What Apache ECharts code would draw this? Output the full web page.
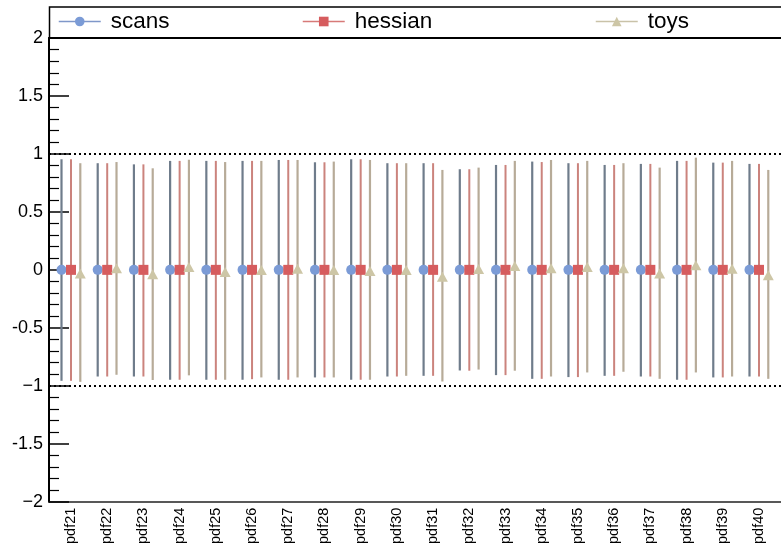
<!DOCTYPE html>
<html>
<head>
<meta charset="utf-8">
<script src="https://cdn.jsdelivr.net/npm/echarts@6/dist/echarts.min.js"></script>
<style>html,body{margin:0;padding:0;background:#fff;}#c{width:781px;height:547px;}</style>
</head>
<body>
<div id="c"></div>
<script>
var categories = ['pdf21','pdf22','pdf23','pdf24','pdf25','pdf26','pdf27','pdf28','pdf29','pdf30','pdf31','pdf32','pdf33','pdf34','pdf35','pdf36','pdf37','pdf38','pdf39','pdf40'];
var yTicks = [-2,-1.5,-1,-0.5,0,0.5,1,1.5,2];

var scansCenter = [0,0,0,0,0,0,0,0,0,0,0,0,0,0,0,0,0,0,0,0];
var scansHigh = [0.954,0.92,0.91,0.94,0.94,0.94,0.948,0.928,0.954,0.92,0.92,0.868,0.905,0.934,0.92,0.905,0.914,0.94,0.925,0.914];
var scansLow = [-0.957,-0.92,-0.92,-0.948,-0.948,-0.948,-0.948,-0.928,-0.948,-0.92,-0.914,-0.868,-0.908,-0.94,-0.925,-0.914,-0.92,-0.948,-0.928,-0.92];

var hessianCenter = [0,0,0,0,0,0,0,0,0,0,0,0,0,0,0,0,0,0,0,0];
var hessianHigh = [0.954,0.92,0.91,0.94,0.94,0.94,0.948,0.928,0.954,0.92,0.92,0.868,0.905,0.93,0.92,0.905,0.914,0.94,0.925,0.914];
var hessianLow = [-0.957,-0.92,-0.92,-0.948,-0.948,-0.943,-0.948,-0.928,-0.948,-0.92,-0.914,-0.87,-0.908,-0.94,-0.925,-0.914,-0.92,-0.948,-0.928,-0.92];

var toysCenter = [-0.035,0.01,-0.043,0.02,-0.023,-0.005,0.005,-0.005,-0.015,-0.005,-0.063,0.003,0.03,0.01,0.02,0.01,-0.035,0.035,0.005,-0.05];
var toysHigh = [0.92,0.93,0.876,0.95,0.93,0.94,0.948,0.934,0.948,0.92,0.862,0.882,0.94,0.948,0.94,0.92,0.882,0.968,0.94,0.862];
var toysLow = [-0.966,-0.905,-0.95,-0.91,-0.948,-0.928,-0.928,-0.928,-0.948,-0.914,-0.963,-0.86,-0.87,-0.92,-0.885,-0.879,-0.94,-0.885,-0.92,-0.94];

function buildData(center, low, high) {
  return categories.map(function (c, i) { return [i + 1, center[i], low[i], high[i]]; });
}

function makeErrSeries(name, center, low, high, dx, lineColor, lineWidth, markColor, shape) {
  return {
    name: name,
    type: 'custom',
    data: buildData(center, low, high),
    encode: { x: 0, y: [1, 2, 3] },
    renderItem: function (params, api) {
      var x = api.value(0);
      var pc = api.coord([x, api.value(1)]);
      var pl = api.coord([x, api.value(2)]);
      var ph = api.coord([x, api.value(3)]);
      var cx = pc[0] + dx, cy = pc[1];
      var children = [{
        type: 'line',
        shape: { x1: cx, y1: pl[1], x2: cx, y2: ph[1] },
        style: { stroke: lineColor, lineWidth: lineWidth }
      }];
      var s = 5;
      if (shape === 'circle') {
        children.push({ type: 'circle', shape: { cx: cx, cy: cy, r: s }, style: { fill: markColor } });
      } else if (shape === 'rect') {
        children.push({ type: 'rect', shape: { x: cx - s, y: cy - s, width: 2 * s, height: 2 * s }, style: { fill: markColor } });
      } else {
        children.push({ type: 'polygon', shape: { points: [[cx, cy - s - 0.5], [cx + s + 0.5, cy + s - 0.5], [cx - s - 0.5, cy + s - 0.5]] }, style: { fill: markColor } });
      }
      return { type: 'group', children: children };
    }
  };
}

var chart = echarts.init(document.getElementById('c'), null, { renderer: 'canvas' });
var font = 'Liberation Sans, Arial, Helvetica, sans-serif';

function legendAt(left, name, lineColor) {
  return {
    left: left, top: 8, padding: 0, itemGap: 0,
    itemWidth: 42, itemHeight: 12,
    data: [{ name: name }],
    selectedMode: false,
    textStyle: { fontSize: 22.5, fontFamily: font, color: '#000', padding: [0, 0, 0, 5], lineHeight: 27 },
    lineStyle: { color: lineColor, width: 1.5 }
  };
}

chart.setOption({
  animation: false,
  backgroundColor: '#fff',
  grid: { left: 49, right: 0, top: 38, bottom: 45, containLabel: false },
  legend: [
    legendAt(58, 'scans', '#7f97c9'),
    legendAt(302, 'hessian', '#d77a78'),
    legendAt(595, 'toys', '#c9c2a8')
  ],
  graphic: [{
    type: 'rect', silent: true, z: 10,
    shape: { x: 49.5, y: 7, width: 740, height: 31 },
    style: { fill: 'none', stroke: '#000', lineWidth: 1.5 }
  }],
  xAxis: [{
    type: 'value', min: 0.3925, max: 20.608,
    axisLine: { show: true, onZero: false, lineStyle: { color: '#222', width: 1.5 } },
    axisTick: { show: false },
    splitLine: { show: false },
    axisLabel: {
      customValues: categories.map(function (c, i) { return i + 1; }),
      formatter: function (v) { return categories[Math.round(v) - 1] || ''; },
      rotate: 90, fontSize: 14.5, fontFamily: font, color: '#000', margin: 6
    }
  }, {
    type: 'value', position: 'top', min: 0.3925, max: 20.608,
    axisLine: { show: true, onZero: false, lineStyle: { color: '#000', width: 2 } },
    axisTick: { show: false }, axisLabel: { show: false }, splitLine: { show: false }
  }],
  yAxis: {
    type: 'value', min: -2, max: 2, interval: 0.5,
    axisLine: { show: true, lineStyle: { color: '#000', width: 2 } },
    axisTick: { show: true, inside: true, length: 20, lineStyle: { color: '#000', width: 1.5 } },
    minorTick: { show: true, splitNumber: 5, length: 10, lineStyle: { color: '#000', width: 1.2 } },
    splitLine: { show: false },
    axisLabel: {
      fontSize: 18, fontFamily: font, color: '#000', margin: 6,
      formatter: function (v) {
        if (v === -1) return '\u22121';
        if (v === -2) return '\u22122';
        return String(v);
      }
    }
  },
  series: [
    makeErrSeries('scans_err', scansCenter, scansLow, scansHigh, -9.5, '#6f7c8b', 2.2, '#7b9bd6', 'circle'),
    makeErrSeries('hessian_err', hessianCenter, hessianLow, hessianHigh, 0, '#cb837d', 2, '#d65c5e', 'rect'),
    makeErrSeries('toys_err', toysCenter, toysLow, toysHigh, 9.3, '#b7ab98', 2.2, '#cdc6a6', 'triangle'),
    { name: 'scans', type: 'line', data: [], symbol: 'circle', symbolSize: 10, itemStyle: { color: '#7b9bd6' }, lineStyle: { color: '#7f97c9', width: 1.5 },
      markLine: { silent: true, symbol: 'none', label: { show: false }, lineStyle: { type: [2, 3], color: '#000', width: 2 }, data: [{ yAxis: 1 }, { yAxis: -1 }] } },
    { name: 'hessian', type: 'line', data: [], symbol: 'rect', symbolSize: 10, itemStyle: { color: '#d65c5e' }, lineStyle: { color: '#d77a78', width: 1.5 } },
    { name: 'toys', type: 'line', data: [], symbol: 'triangle', symbolSize: 10, itemStyle: { color: '#cdc6a6' }, lineStyle: { color: '#c9c2a8', width: 1.5 } }
  ]
});
</script>
</body>
</html>
